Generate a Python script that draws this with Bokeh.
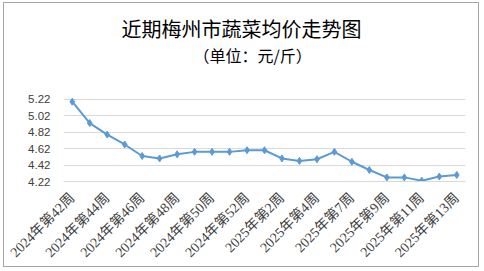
from bokeh.plotting import figure
from bokeh.models import FixedTicker, Title, Range1d
from bokeh.embed import file_html
from bokeh.resources import INLINE

categories = [
    "2024年第42周", "2024年第43周", "2024年第44周", "2024年第45周", "2024年第46周",
    "2024年第47周", "2024年第48周", "2024年第49周", "2024年第50周", "2024年第51周",
    "2024年第52周", "2025年第1周", "2025年第2周", "2025年第3周", "2025年第4周",
    "2025年第6周", "2025年第7周", "2025年第8周", "2025年第9周", "2025年第10周",
    "2025年第11周", "2025年第12周", "2025年第13周",
]
prices = [5.19, 4.93, 4.79, 4.67, 4.53, 4.50, 4.55, 4.58, 4.58, 4.58, 4.60, 4.60,
          4.50, 4.47, 4.49, 4.58, 4.46, 4.36, 4.27, 4.27, 4.23, 4.28, 4.30]
y_ticks = [4.22, 4.42, 4.62, 4.82, 5.02, 5.22]
title_text = "近期梅州市蔬菜均价走势图"
subtitle_text = "（单位：元/斤）"

xs = list(range(len(categories)))

p = figure(width=476, height=265, output_backend="svg", toolbar_location=None,
           x_range=Range1d(-0.5, len(categories) - 0.5), y_range=Range1d(4.22, 5.593),
           min_border_left=59, min_border_right=15, min_border_top=65, min_border_bottom=86,
           title=title_text)
p.styles = {"border": "1px solid #A6A6A6", "margin-left": "3px", "margin-top": "2px"}
p.outline_line_color = None
p.background_fill_color = "white"
p.border_fill_color = "white"

p.title.text_font = "Noto Sans CJK SC"
p.title.text_font_size = "20px"
p.title.text_font_style = "normal"
p.title.text_color = "#000000"
p.title.align = "left"
p.title.offset = 58
p.title.standoff = -9
p.add_layout(Title(text=subtitle_text, text_font="Noto Sans CJK SC", text_font_size="16px",
                   text_font_style="normal", text_color="#000000", align="left",
                   offset=130, standoff=4), "above")

p.line(xs, prices, line_color="#5B9BD5", line_width=2)
p.scatter(xs, prices, marker="diamond", size=7, fill_color="#5B9BD5", line_color="#5B9BD5")

p.xgrid.grid_line_color = None
p.ygrid.grid_line_color = "#D9D9D9"
p.ygrid.grid_line_width = 1
p.yaxis.ticker = FixedTicker(ticks=y_ticks)
p.yaxis.major_label_overrides = {t: f"{t:.2f}" for t in y_ticks}
p.yaxis.axis_line_color = None
p.yaxis.major_tick_line_color = None
p.yaxis.minor_tick_line_color = None
p.yaxis.major_tick_out = 0
p.yaxis.major_tick_in = 0
p.yaxis.major_label_text_font = "Liberation Sans"
p.yaxis.major_label_text_font_size = "11.5px"
p.yaxis.major_label_text_color = "#404040"
p.yaxis.major_label_standoff = 13

p.xaxis.ticker = FixedTicker(ticks=xs[::2])
p.xaxis.major_label_overrides = {i: categories[i] for i in xs[::2]}
p.xaxis.major_label_orientation = 0.785398
p.xaxis.axis_line_color = "#D9D9D9"
p.xaxis.major_tick_line_color = None
p.xaxis.minor_tick_line_color = None
p.xaxis.major_tick_out = 0
p.xaxis.major_tick_in = 0
p.xaxis.major_label_text_font = "Liberation Serif, Noto Sans CJK SC"
p.xaxis.major_label_text_font_size = "14px"
p.xaxis.major_label_text_color = "#404040"
p.xaxis.major_label_standoff = 14

open("out.html", "w").write(file_html(p, INLINE))
